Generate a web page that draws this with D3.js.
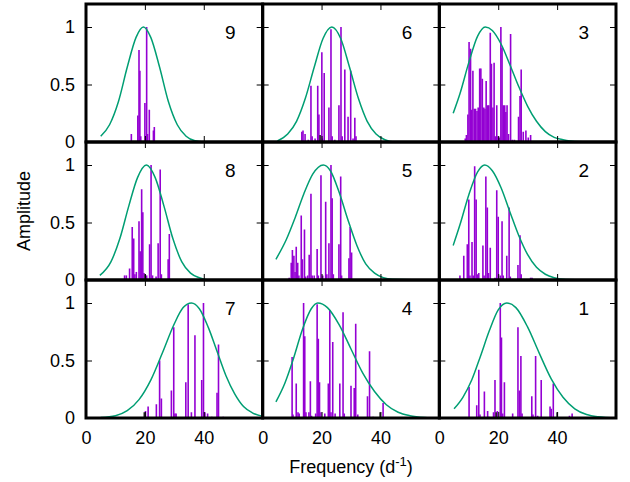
<!DOCTYPE html>
<html>
<head>
<meta charset="utf-8">
<script src="https://cdn.jsdelivr.net/npm/d3@7"></script>
<style>
    body { margin: 0; background: #fff; }
    text { font-family: "Liberation Sans", Arial, sans-serif; }
</style>
</head>
<body>
<svg id="chart" width="630" height="482"></svg>
<script>
// Panel order in the grid, row by row
const panelIds = [9, 6, 3, 8, 5, 2, 7, 4, 1];

const xTicks = [0, 20, 40];
const yTicks = [0, 0.5, 1];

// Peaks per panel: [frequency, amplitude]
const peaks9 = [[15.4,0.07],[17.6,0.23],[18.0,0.80],[18.3,0.62],[18.6,0.05],[20.0,0.34],[20.6,1.0],[20.9,0.07],[21.5,0.28],[22.9,0.10],[23.2,0.13]];
const peaks6 = [[13.3,0.09],[13.7,0.10],[14.4,0.07],[15.5,0.02],[16.4,0.49],[16.8,0.05],[17.8,0.03],[18.7,0.49],[19.1,0.24],[20.1,0.78],[20.3,0.03],[20.9,0.60],[22.5,0.30],[23.2,0.98],[23.6,0.05],[24.5,0.02],[25.9,0.32],[26.6,1.0],[27.0,0.05],[27.9,0.63],[29.0,0.22],[29.9,0.62],[30.7,0.03],[31.3,0.21],[31.7,0.05]];
const peaks3 = [[8.8,0.03],[9.2,0.06],[9.7,0.24],[10.1,0.87],[10.6,0.81],[11.0,0.28],[11.4,0.62],[11.9,0.29],[12.3,0.29],[12.8,0.27],[13.2,0.30],[13.7,0.64],[14.1,0.64],[14.6,0.55],[15.1,0.30],[15.5,0.29],[15.9,0.53],[16.4,0.32],[16.8,0.32],[17.3,0.95],[17.7,0.68],[18.2,0.30],[18.6,0.69],[19.0,0.05],[19.5,0.32],[19.9,0.05],[20.4,0.04],[20.9,1.0],[21.3,0.82],[21.7,0.32],[22.2,0.32],[22.6,0.26],[23.0,0.32],[23.5,0.07],[24.2,0.94],[24.8,0.02],[25.5,0.02],[26.9,0.22],[27.4,0.40],[27.8,0.63],[28.5,0.09],[29.4,0.10],[30.2,0.04],[31.0,0.06]];
const peaks8 = [[13.1,0.04],[13.7,0.04],[14.8,0.10],[15.7,0.46],[16.2,0.36],[16.6,0.05],[17.1,0.07],[18.0,0.51],[18.4,0.25],[18.9,0.79],[19.3,0.59],[19.7,0.06],[20.6,0.04],[21.6,0.31],[22.1,1.0],[22.6,0.04],[23.8,0.03],[24.5,0.32],[25.2,0.96],[25.6,0.05],[27.9,0.18],[28.3,0.40]];
const peaks5 = [[9.0,0.02],[9.7,0.15],[10.1,0.26],[10.6,0.21],[11.0,0.07],[11.4,0.29],[11.9,0.15],[12.3,0.04],[13.1,0.56],[13.5,0.18],[14.2,0.44],[14.6,0.03],[15.3,0.04],[15.8,0.22],[16.4,0.75],[16.8,0.04],[17.5,0.04],[18.5,0.27],[18.9,0.04],[19.8,0.91],[20.4,0.04],[21.4,0.68],[21.8,0.05],[22.5,0.32],[23.2,1.0],[23.6,0.71],[24.0,0.05],[25.9,0.31],[26.5,0.90],[26.8,0.04],[29.3,0.19],[29.7,0.46],[30.2,0.24]];
const peaks2 = [[7.0,0.04],[8.3,0.21],[9.5,0.31],[10.0,0.70],[10.4,0.04],[11.1,0.33],[11.5,0.04],[12.0,0.99],[12.5,0.70],[12.9,0.05],[13.4,0.06],[14.8,0.30],[15.2,0.04],[15.8,0.90],[16.3,0.63],[16.7,0.06],[17.3,0.28],[18.9,0.02],[19.5,0.78],[20.0,0.55],[20.7,0.04],[21.3,0.51],[21.7,0.04],[22.9,0.21],[23.7,0.63],[24.1,0.03],[26.7,0.13],[27.4,0.39],[27.8,0.05],[31.0,0.02],[31.5,0.02]];
const peaks7 = [[20.2,0.06],[21.1,0.10],[23.9,0.12],[25.0,0.50],[25.6,0.17],[29.0,0.24],[29.8,0.79],[30.2,0.04],[30.6,0.04],[33.9,0.31],[34.7,0.99],[35.8,0.05],[37.0,0.72],[39.3,0.33],[39.9,1.0],[40.4,0.05],[41.3,0.04],[42.7,0.01],[44.5,0.22],[45.0,0.64],[46.6,0.01]];
const peaks4 = [[10.0,0.53],[10.3,0.03],[11.4,0.30],[12.0,0.05],[12.4,0.04],[13.9,1.0],[14.3,0.71],[14.7,0.05],[15.7,0.05],[16.2,0.32],[16.6,0.02],[18.0,0.04],[18.5,0.99],[18.9,0.69],[19.3,0.31],[19.8,0.05],[21.1,0.04],[22.3,0.30],[22.8,0.94],[23.2,0.05],[23.8,0.66],[24.6,0.04],[26.2,0.30],[27.3,0.92],[27.7,0.04],[30.0,0.28],[31.1,0.26],[31.6,0.82],[32.3,0.03],[35.6,0.19],[36.3,0.58],[37.5,0.01],[40.9,0.13]];
const peaks1 = [[10.1,0.27],[12.7,0.11],[13.4,0.42],[13.8,0.03],[15.3,0.23],[16.4,0.06],[16.8,0.01],[18.4,0.05],[18.9,0.33],[19.7,0.06],[20.7,1.0],[21.1,0.70],[21.5,0.04],[22.1,0.31],[24.9,0.04],[26.7,0.79],[27.2,0.24],[27.7,0.54],[28.1,0.04],[31.4,0.19],[31.8,0.03],[32.7,0.54],[33.4,0.02],[34.6,0.33],[37.6,0.10],[38.0,0.08],[38.7,0.30],[44.2,0.02],[45.1,0.04]];

// Small dark peaks
const dark9 = [];
const dark6 = [[19.5,0.06]];
const dark3 = [];
const dark8 = [[20.1,0.05]];
const dark5 = [];
const dark2 = [];
const dark7 = [[19.8,0.05]];
const dark4 = [[39.9,0.05]];
const dark1 = [[19.3,0.05],[40.0,0.05]];

// Envelope curves: [frequency, amplitude]
const curve9 = [[5,0.05],[8,0.15],[11,0.35],[14,0.65],[17,0.91],[19.5,1],[22,0.91],[25,0.65],[28,0.35],[31,0.15],[34,0.05],[37,0.01],[40,0],[60,0]];
const curve6 = [[5,0.01],[8.5,0.07],[11.5,0.18],[14.5,0.38],[17.5,0.65],[20.5,0.90],[23.5,1],[26.5,0.90],[29.5,0.65],[32.5,0.38],[35.5,0.18],[38.5,0.07],[41.5,0.02],[45,0],[60,0]];
const curve3 = [[4.7,0.25],[7,0.42],[10,0.69],[13,0.92],[15.6,1],[18,0.97],[21,0.85],[24,0.67],[27,0.48],[30,0.31],[33,0.18],[36,0.09],[39,0.04],[42,0.02],[46,0.005],[60,0]];
const curve8 = [[4.7,0.04],[8.5,0.16],[11.5,0.36],[14.5,0.64],[17.5,0.89],[20.5,1],[23.5,0.89],[26.5,0.64],[29.5,0.36],[32.5,0.16],[35.5,0.06],[38.5,0.02],[42,0],[60,0]];
const curve5 = [[4.5,0.18],[8,0.35],[11,0.54],[14,0.75],[17,0.92],[20.6,1],[23,0.95],[26,0.76],[29,0.52],[32,0.30],[35,0.14],[38,0.06],[41,0.02],[44,0.006],[60,0]];
const curve2 = [[4.7,0.30],[7,0.48],[10,0.74],[13,0.94],[15.4,1],[18,0.95],[21,0.80],[24,0.59],[27,0.385],[30,0.22],[33,0.11],[36,0.05],[39,0.02],[43,0.005],[60,0]];
const curve7 = [[5,0.004],[10,0.02],[14,0.064],[18,0.16],[22,0.33],[26,0.57],[30,0.82],[33,0.96],[35.8,1],[38.5,0.95],[41.5,0.79],[44.5,0.58],[47.5,0.37],[50.5,0.21],[53.5,0.10],[56.5,0.045],[60,0.014]];
const curve4 = [[4.5,0.14],[7.5,0.30],[10.5,0.52],[13.5,0.77],[16.5,0.95],[18.7,1],[22,0.96],[26,0.81],[30,0.60],[34,0.39],[38,0.23],[42,0.115],[46,0.05],[50,0.02],[55,0.005],[60,0.001]];
const curve1 = [[5,0.08],[8,0.18],[11,0.33],[14,0.54],[17,0.76],[20,0.94],[22.9,1],[26,0.96],[30,0.79],[34,0.56],[38,0.34],[42,0.18],[46,0.08],[50,0.03],[54,0.01],[60,0]];

const colors = {
    peak: '#9400d3',
    dark: '#222222',
    curve: '#009e73'
};

const layout = {
    left: 86, right: 616, top: 4, bottom: 418,
    cols: 3, rows: 3
};

const panels = [
    { id: 9, peaks: peaks9, dark: dark9, curve: curve9 },
    { id: 6, peaks: peaks6, dark: dark6, curve: curve6 },
    { id: 3, peaks: peaks3, dark: dark3, curve: curve3 },
    { id: 8, peaks: peaks8, dark: dark8, curve: curve8 },
    { id: 5, peaks: peaks5, dark: dark5, curve: curve5 },
    { id: 2, peaks: peaks2, dark: dark2, curve: curve2 },
    { id: 7, peaks: peaks7, dark: dark7, curve: curve7 },
    { id: 4, peaks: peaks4, dark: dark4, curve: curve4 },
    { id: 1, peaks: peaks1, dark: dark1, curve: curve1 }
];

const svg = d3.select('#chart');
const pw = (layout.right - layout.left) / layout.cols;
const ph = (layout.bottom - layout.top) / layout.rows;

const x = d3.scaleLinear().domain([0, 60]).range([0, pw]);
const y = d3.scaleLinear().domain([0, 1.2]).range([ph, 0]);

const line = d3.line()
    .x(d => x(d[0]))
    .y(d => y(d[1]))
    .curve(d3.curveMonotoneX);

const styleAxis = (g, showLabels) => {
    g.select('.domain').remove();
    g.selectAll('.tick line').attr('stroke', '#000').attr('stroke-width', 1);
    g.selectAll('.tick text')
        .style('font-size', '18px')
        .attr('fill', '#000')
        .style('display', showLabels ? null : 'none');
};

/**
 * Draws one panel of the grid
 */
const drawPanel = (panel, i) => {
    const col = i % layout.cols;
    const row = Math.floor(i / layout.cols);
    const g = svg.append('g')
        .attr('transform', `translate(${layout.left + col * pw}, ${layout.top + row * ph})`);

    const clipId = `clip-${panel.id}`;
    g.append('clipPath').attr('id', clipId)
        .append('rect').attr('width', pw).attr('height', ph);

    const plot = g.append('g').attr('clip-path', `url(#${clipId})`);

    plot.selectAll('.peak')
        .data(panel.peaks)
        .enter()
        .append('line')
        .attr('class', 'peak')
        .attr('x1', d => x(d[0]))
        .attr('x2', d => x(d[0]))
        .attr('y1', y(0))
        .attr('y2', d => y(d[1]))
        .attr('stroke', colors.peak)
        .attr('stroke-width', 1.6);

    plot.selectAll('.dark')
        .data(panel.dark)
        .enter()
        .append('line')
        .attr('class', 'dark')
        .attr('x1', d => x(d[0]))
        .attr('x2', d => x(d[0]))
        .attr('y1', y(0))
        .attr('y2', d => y(d[1]))
        .attr('stroke', colors.dark)
        .attr('stroke-width', 1.6);

    plot.append('path')
        .datum(panel.curve)
        .attr('d', line)
        .attr('fill', 'none')
        .attr('stroke', colors.curve)
        .attr('stroke-width', 1.5);

    // Ticks point inward on every side
    g.append('g')
        .call(d3.axisLeft(y).tickValues(yTicks).tickSize(-6).tickPadding(11).tickFormat(d3.format('~g')))
        .call(a => styleAxis(a, col === 0));
    g.append('g')
        .attr('transform', `translate(${pw},0)`)
        .call(d3.axisRight(y).tickValues(yTicks).tickSize(-6))
        .call(a => styleAxis(a, false));
    g.append('g')
        .call(d3.axisTop(x).tickValues(xTicks).tickSize(-6))
        .call(a => styleAxis(a, false));
    g.append('g')
        .attr('transform', `translate(0,${ph})`)
        .call(d3.axisBottom(x).tickValues(xTicks).tickSize(-6).tickPadding(13))
        .call(a => styleAxis(a, row === layout.rows - 1));

    g.append('rect')
        .attr('width', pw)
        .attr('height', ph)
        .attr('fill', 'none')
        .attr('stroke', '#000')
        .attr('stroke-width', 3);

    g.append('text')
        .attr('x', pw - 27)
        .attr('y', 35)
        .attr('text-anchor', 'end')
        .style('font-size', '19px')
        .text(panel.id);
};

panels.forEach(drawPanel);

svg.append('text')
    .attr('transform', `translate(30, ${(layout.top + layout.bottom) / 2}) rotate(-90)`)
    .attr('text-anchor', 'middle')
    .style('font-size', '18px')
    .text('Amplitude');

const xLabel = svg.append('text')
    .attr('x', (layout.left + layout.right) / 2)
    .attr('y', 473)
    .attr('text-anchor', 'middle')
    .style('font-size', '18px');
xLabel.append('tspan').text('Frequency (d');
xLabel.append('tspan').attr('dy', -7).style('font-size', '13px').text('-1');
xLabel.append('tspan').attr('dy', 7).text(')');
</script>
</body>
</html>
